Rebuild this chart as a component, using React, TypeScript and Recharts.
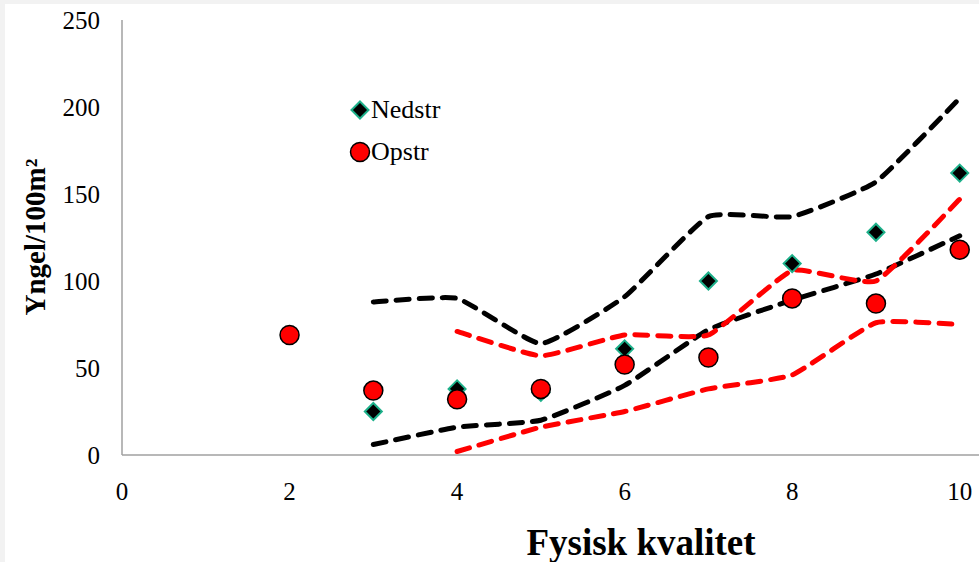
import React from 'react';
import { ComposedChart, Line, Scatter, XAxis, YAxis, Label } from 'recharts';

const FONT = '"Liberation Serif", "Times New Roman", serif';

const xTicks = [0, 2, 4, 6, 8, 10];
const yTicks = [0, 50, 100, 150, 200, 250];

const nedstrX = [3, 4, 5, 6, 7, 8, 9, 10];
const nedstrY = [25, 38, 36, 61, 100, 110, 128, 162];

const opstrX = [2, 3, 4, 5, 6, 7, 8, 9, 10];
const opstrY = [69, 37, 32, 38, 52, 56, 90, 87, 118];

const blackX = [3, 4, 5, 6, 7, 8, 9, 10];
const blackUpper = [88, 90, 64, 91, 137, 137, 157, 205];
const blackLower = [6, 16, 20, 40, 72, 89, 104, 126];

const redX = [4, 5, 6, 7, 8, 9, 10];
const redUpper = [71, 57, 69, 69, 106, 100, 147];
const redLower = [2, 16, 25, 38, 46, 76, 75];

const zip = (xs: number[], ys: number[]) => xs.map((x, i) => ({ x, y: ys[i] }));

// nearly straight segments with softly rounded corners, like the Excel original
const K = 0.07;
const smooth = (context: any) => {
  let pts: number[][] = [];
  return {
    areaStart() {},
    areaEnd() {},
    lineStart() {
      pts = [];
    },
    point(x: number, y: number) {
      pts.push([+x, +y]);
    },
    lineEnd() {
      if (!pts.length) return;
      context.moveTo(pts[0][0], pts[0][1]);
      for (let i = 0; i < pts.length - 1; i++) {
        const p0 = pts[i - 1] || pts[i];
        const p1 = pts[i];
        const p2 = pts[i + 1];
        const p3 = pts[i + 2] || p2;
        context.bezierCurveTo(
          p1[0] + (p2[0] - p0[0]) * K,
          p1[1] + (p2[1] - p0[1]) * K,
          p2[0] - (p3[0] - p1[0]) * K,
          p2[1] - (p3[1] - p1[1]) * K,
          p2[0],
          p2[1],
        );
      }
    },
  };
};

const Diamond = (props: any) => {
  const { cx, cy } = props;
  const r = 8.5;
  return (
    <path
      d={`M${cx},${cy - r}L${cx + r},${cy}L${cx},${cy + r}L${cx - r},${cy}Z`}
      fill="#000"
      stroke="#1db08a"
      strokeWidth={2}
    />
  );
};

const Dot = (props: any) => {
  const { cx, cy } = props;
  return <circle cx={cx} cy={cy} r={9.5} fill="#ff0000" stroke="#000" strokeWidth={1.5} />;
};

const LegendBox = () => (
  <div
    style={{
      position: 'absolute',
      left: 349,
      top: 89,
      fontFamily: FONT,
      fontSize: 26,
      color: '#000',
      lineHeight: '42px',
    }}
  >
    <div style={{ display: 'flex', alignItems: 'center' }}>
      <svg width={22} height={22}>
        <Diamond cx={11} cy={11} />
      </svg>
      <span>Nedstr</span>
    </div>
    <div style={{ display: 'flex', alignItems: 'center' }}>
      <svg width={22} height={22}>
        <Dot cx={11} cy={11} />
      </svg>
      <span>Opstr</span>
    </div>
  </div>
);

const YTitle = () => (
  <text
    x={45}
    y={237}
    transform="rotate(-90 45 237)"
    textAnchor="middle"
    fontFamily={FONT}
    fontWeight="bold"
    fontSize={29}
    fill="#000"
  >
    Yngel/100m²
  </text>
);

const XTitle = () => (
  <text x={641} y={555} textAnchor="middle" fontFamily={FONT} fontWeight="bold" fontSize={37} fill="#000">
    Fysisk kvalitet
  </text>
);

const dash = {
  strokeWidth: 5,
  strokeDasharray: '13 10',
  strokeLinecap: 'round' as const,
  strokeLinejoin: 'round' as const,
  dot: false,
  activeDot: false,
  isAnimationActive: false,
  type: smooth as any,
  dataKey: 'y',
  legendType: 'none' as const,
};

export default function App() {
  const tick = { fontFamily: FONT, fontSize: 25, fill: '#000' };
  return (
    <div style={{ position: 'absolute', left: 0, top: 0, width: 979, height: 562, background: '#f2f2f2' }}>
      <div style={{ position: 'absolute', left: 5, top: 4, width: 974, height: 558, background: '#fff' }} />
      <div style={{ position: 'absolute', left: 0, top: 0 }}>
        <ComposedChart width={979} height={562} margin={{ top: 20, right: 0, bottom: 0, left: 0 }}>
          <XAxis
            type="number"
            dataKey="x"
            domain={[0, 10.23]}
            ticks={xTicks}
            allowDataOverflow
            height={107}
            tickLine={false}
            tickSize={0}
            tickMargin={27}
            stroke="#a0a0a0"
            strokeWidth={1.5}
            tick={tick}
          >
            <Label content={<XTitle />} />
          </XAxis>
          <YAxis
            type="number"
            dataKey="y"
            domain={[0, 250]}
            ticks={yTicks}
            width={122}
            tickLine={false}
            tickSize={0}
            tickMargin={22}
            stroke="#a0a0a0"
            strokeWidth={1.5}
            tick={tick}
            label={<YTitle />}
          />
          <Line data={zip(blackX, blackUpper)} stroke="#000" name="upper" {...dash} />
          <Line data={zip(blackX, blackLower)} stroke="#000" name="lower" {...dash} />
          <Line data={zip(redX, redUpper)} stroke="#ff0000" name="redUpper" {...dash} />
          <Line data={zip(redX, redLower)} stroke="#ff0000" name="redLower" {...dash} />
          <Scatter name="Nedstr" data={zip(nedstrX, nedstrY)} dataKey="y" shape={<Diamond />} isAnimationActive={false} />
          <Scatter name="Opstr" data={zip(opstrX, opstrY)} dataKey="y" shape={<Dot />} isAnimationActive={false} />
        </ComposedChart>
      </div>
      <LegendBox />
    </div>
  );
}
